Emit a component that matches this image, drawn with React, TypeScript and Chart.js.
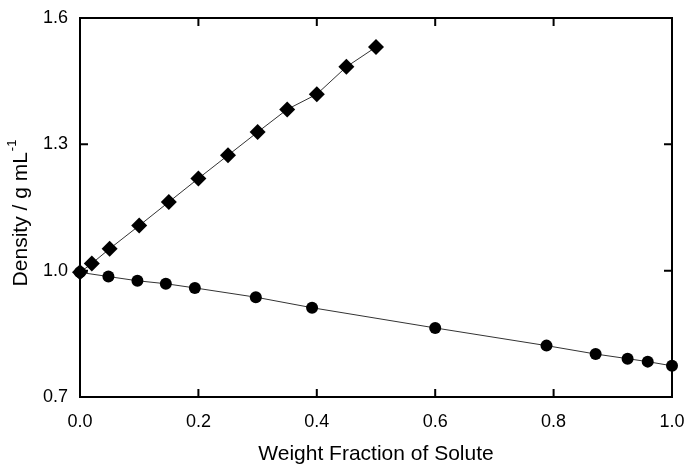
import React, { useEffect, useRef } from "react";
import { Chart, registerables } from "chart.js";

Chart.register(...registerables);

const diamondX = [0.0, 0.02, 0.05, 0.1, 0.15, 0.2, 0.25, 0.3, 0.35, 0.4, 0.45, 0.5];
const diamondY = [0.996, 1.017, 1.052, 1.107, 1.163, 1.219, 1.274, 1.329, 1.383, 1.419, 1.484, 1.531];

const circleX = [0.0, 0.048, 0.097, 0.145, 0.194, 0.297, 0.392, 0.6, 0.788, 0.871, 0.925, 0.959, 1.0];
const circleY = [0.996, 0.986, 0.976, 0.969, 0.959, 0.937, 0.912, 0.864, 0.822, 0.802, 0.791, 0.784, 0.774];

const xTicks = [0.0, 0.2, 0.4, 0.6, 0.8, 1.0];
const yTicks = [0.7, 1.0, 1.3, 1.6];

const xTitle = "Weight Fraction of Solute";
const yTitleMain = "Density / g mL";
const yTitleSup = "-1";

const FONT = "'Liberation Sans', Arial, sans-serif";

const framePlugin = {
  id: "frameTicks",
  afterDraw(chart: any) {
    const { ctx, chartArea } = chart;
    const { left, right, top, bottom } = chartArea;
    const xs = chart.scales.x;
    const ys = chart.scales.y;
    ctx.save();
    ctx.strokeStyle = "#000";
    ctx.lineWidth = 2;
    ctx.strokeRect(left, top, right - left, bottom - top);
    const len = 8;
    ctx.beginPath();
    xTicks.forEach((v) => {
      const px = xs.getPixelForValue(v);
      ctx.moveTo(px, bottom);
      ctx.lineTo(px, bottom - len);
      ctx.moveTo(px, top);
      ctx.lineTo(px, top + len);
    });
    yTicks.forEach((v) => {
      const py = ys.getPixelForValue(v);
      ctx.moveTo(left, py);
      ctx.lineTo(left + len, py);
      ctx.moveTo(right, py);
      ctx.lineTo(right - len, py);
    });
    ctx.stroke();

    // x title
    ctx.fillStyle = "#000";
    ctx.font = `21px ${FONT}`;
    ctx.textAlign = "center";
    ctx.textBaseline = "middle";
    ctx.fillText(xTitle, (left + right) / 2, 454);

    // y title with superscript
    ctx.translate(21, (top + bottom) / 2 + 6);
    ctx.rotate(-Math.PI / 2);
    ctx.font = `21px ${FONT}`;
    const w1 = ctx.measureText(yTitleMain).width;
    ctx.font = `13px ${FONT}`;
    const w2 = ctx.measureText(yTitleSup).width;
    const start = -(w1 + w2) / 2;
    ctx.textAlign = "left";
    ctx.font = `21px ${FONT}`;
    ctx.fillText(yTitleMain, start, 0);
    ctx.font = `13px ${FONT}`;
    ctx.fillText(yTitleSup, start + w1 + 1, -9);
    ctx.restore();
  },
};

export default function App() {
  const ref = useRef<HTMLCanvasElement | null>(null);
  useEffect(() => {
    document.body.style.margin = "0";
    const canvas = ref.current;
    if (!canvas) return;
    const chart = new Chart(canvas, {
      type: "scatter",
      data: {
        datasets: [
          {
            label: "diamonds",
            data: diamondX.map((x, i) => ({ x, y: diamondY[i] })),
            showLine: true,
            borderColor: "#333",
            borderWidth: 1,
            backgroundColor: "#000",
            pointStyle: "rectRot",
            pointRadius: 8,
            pointBorderWidth: 0,
            clip: false,
            order: 2,
          },
          {
            label: "circles",
            data: circleX.map((x, i) => ({ x, y: circleY[i] })),
            showLine: true,
            borderColor: "#333",
            borderWidth: 1,
            backgroundColor: "#000",
            pointStyle: "circle",
            pointRadius: 6,
            pointBorderWidth: 0,
            clip: false,
            order: 1,
          },
        ],
      },
      options: {
        animation: false,
        responsive: false,
        maintainAspectRatio: false,
        layout: { padding: { top: 18, right: 15, left: 0, bottom: 0 } },
        plugins: {
          legend: { display: false },
          tooltip: { enabled: false },
        },
        scales: {
          x: {
            type: "linear",
            min: 0,
            max: 1,
            afterBuildTicks: (s: any) => {
              s.ticks = xTicks.map((v) => ({ value: v }));
            },
            afterFit: (s: any) => {
              s.height = 69;
              s.paddingLeft = 0;
              s.paddingRight = 0;
            },
            grid: { display: false, drawTicks: false },
            border: { display: false },
            ticks: {
              color: "#000",
              padding: 14,
              font: { size: 18, family: FONT },
              maxRotation: 0,
              callback: (v: any) => Number(v).toFixed(1),
            },
          },
          y: {
            type: "linear",
            min: 0.7,
            max: 1.6,
            afterBuildTicks: (s: any) => {
              s.ticks = yTicks.map((v) => ({ value: v }));
            },
            afterFit: (s: any) => {
              s.width = 80;
              s.paddingTop = 0;
              s.paddingBottom = 0;
            },
            grid: { display: false, drawTicks: false },
            border: { display: false },
            ticks: {
              color: "#000",
              padding: 12,
              font: { size: 18, family: FONT },
              callback: (v: any) => Number(v).toFixed(1),
            },
          },
        },
      },
      plugins: [framePlugin],
    });
    return () => chart.destroy();
  }, []);
  return (
    <div style={{ width: 687, height: 466, background: "#fff" }}>
      <canvas ref={ref} width={687} height={466} style={{ width: 687, height: 466, display: "block" }} />
    </div>
  );
}
